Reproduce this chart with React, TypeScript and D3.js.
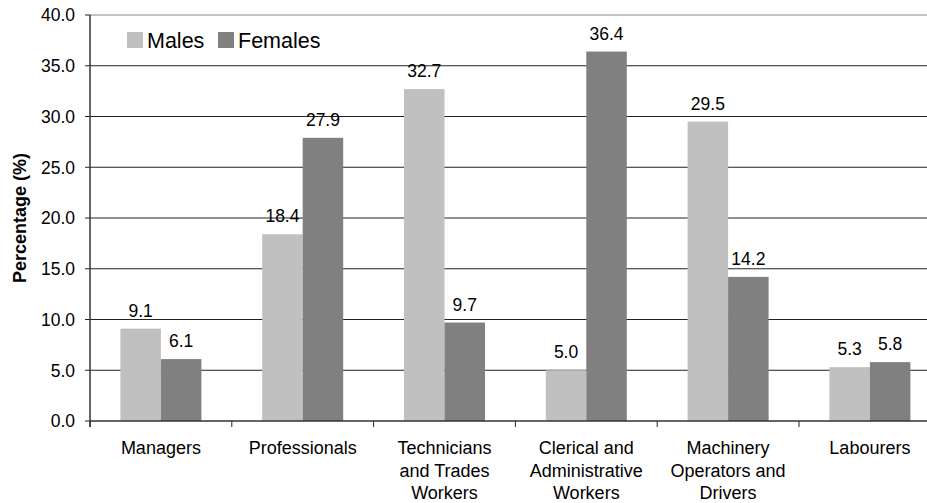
import React from "react";
import * as d3 from "d3";

const categories = [
  ["Managers"],
  ["Professionals"],
  ["Technicians", "and Trades", "Workers"],
  ["Clerical and", "Administrative", "Workers"],
  ["Machinery", "Operators and", "Drivers"],
  ["Labourers"],
];
const males = [9.1, 18.4, 32.7, 5.0, 29.5, 5.3];
const females = [6.1, 27.9, 9.7, 36.4, 14.2, 5.8];
const yTicks = [0, 5, 10, 15, 20, 25, 30, 35, 40];
const seriesNames = ["Males", "Females"];
const colors = ["#c0c0c0", "#808080"];

export default function App() {
  const W = 927, H = 503;
  const left = 90, top = 15, bottom = 421;
  const catW = 141.8;
  const right = left + catW * categories.length;
  const x = d3.scaleBand<number>().domain(d3.range(categories.length)).range([left, right]).paddingInner(0).paddingOuter(0);
  const y = d3.scaleLinear().domain([0, 40]).range([bottom, top]);
  const barW = 40.5;
  const font = "Liberation Sans, Arial, sans-serif";
  return (
    <svg width={W} height={H} style={{ position: "absolute", left: 0, top: 0, background: "#fff" }} fontFamily={font}>
      {yTicks.map((t) => (
        <g key={t}>
          {t > 0 && (
            <line x1={left} x2={W} y1={y(t)} y2={y(t)} stroke={t === 40 ? "#888" : "#222"} strokeWidth={1} />
          )}
          <line x1={left - 5} x2={left} y1={y(t)} y2={y(t)} stroke="#222" />
          <text x={75} y={y(t)} dy="0.36em" textAnchor="end" fontSize={17.5} fill="#000">
            {t.toFixed(1)}
          </text>
        </g>
      ))}
      {categories.map((c, i) => {
        const cx = (x(i) as number) + x.bandwidth() / 2;
        return (
          <g key={i}>
            <rect x={cx - barW} y={y(males[i])} width={barW} height={bottom - y(males[i])} fill={colors[0]} />
            <rect x={cx} y={y(females[i])} width={barW} height={bottom - y(females[i])} fill={colors[1]} />
            <text x={cx - barW / 2} y={y(males[i]) - 12} textAnchor="middle" fontSize={17.5}>{males[i].toFixed(1)}</text>
            <text x={cx + barW / 2} y={y(females[i]) - 12} textAnchor="middle" fontSize={17.5}>{females[i].toFixed(1)}</text>
            {c.map((line, j) => (
              <text key={j} x={cx} y={454 + j * 22.5} textAnchor="middle" fontSize={18}>{line}</text>
            ))}
            <line x1={x(i) as number} x2={x(i) as number} y1={bottom} y2={bottom + 6} stroke="#222" />
          </g>
        );
      })}
      <line x1={left} x2={left} y1={top} y2={bottom + 6} stroke="#333" strokeWidth={1.5} />
      <line x1={left} x2={W} y1={bottom} y2={bottom} stroke="#333" strokeWidth={1.5} />
      <text transform={`translate(26,${(top + bottom) / 2}) rotate(-90)`} textAnchor="middle" fontSize={18} fontWeight="bold">
        Percentage (%)
      </text>
      {seriesNames.map((s, i) => {
        const lx = [127, 218][i];
        return (
          <g key={s}>
            <rect x={lx} y={32} width={16} height={16} fill={colors[i]} />
            <text x={lx + 20} y={48} fontSize={21.5}>{s}</text>
          </g>
        );
      })}
    </svg>
  );
}
